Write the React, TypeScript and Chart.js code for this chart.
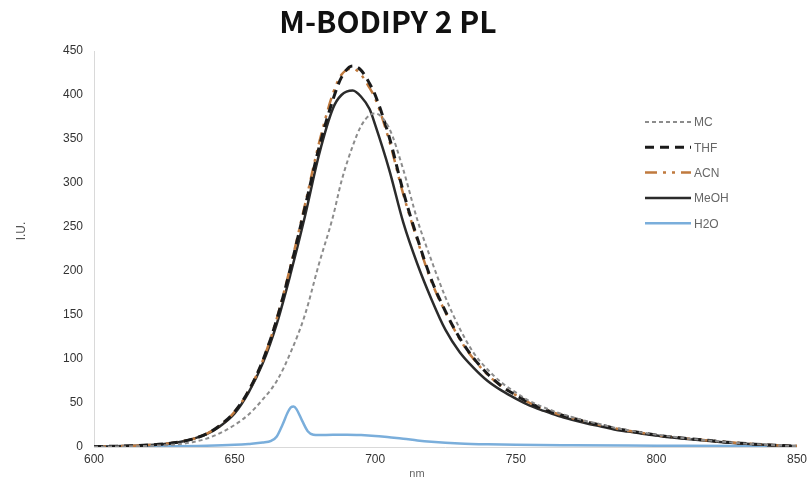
import React, { useEffect, useRef } from "react";
import { Chart, registerables } from "chart.js";

Chart.register(...registerables);

const TITLE = "M-BODIPY 2 PL";
const X_TITLE = "nm";
const Y_TITLE = "I.U.";

const WAVELENGTHS = [
  600, 605, 610, 615, 620, 625, 630, 635, 640, 645, 650, 655, 660, 665, 670, 675, 680, 685,
  688, 692, 695, 698, 700,
  705, 710, 715, 720, 725, 730, 735, 740, 745, 750, 755, 760, 765, 770, 775, 780, 785, 790,
  795, 800, 805, 810, 815, 820, 825, 830, 835, 840, 845, 850,
];

const MC = [
  0.3, 0.4, 0.6, 0.9, 1.3, 2, 3.2, 5.5, 9.5, 16, 25, 37, 54, 75, 108, 150, 208, 262,
  302, 342, 365, 377, 379,
  362, 315, 258, 212, 170, 135, 107, 88, 73, 62, 52, 45, 39, 34, 29.5, 26, 22, 19,
  16.5, 14, 12, 10, 8.5, 7, 5.5, 4.3, 3.2, 2.3, 1.6, 1,
];

const THF = [
  0.5, 0.7, 1, 1.5, 2.3, 3.5, 5.5, 9, 15, 25, 40, 64, 98, 145, 205, 272, 340, 395,
  420, 433, 428, 413, 400,
  352, 290, 237, 190, 154, 124, 101, 83, 69, 59, 50, 43, 37.5, 33, 28.5, 25, 21.5, 18.5,
  16, 13.5, 11.5, 10, 8.5, 7, 5.5, 4.3, 3.2, 2.3, 1.6, 1,
];

const ACN = [
  0.5, 0.7, 1, 1.5, 2.3, 3.5, 5.5, 9, 15, 25, 40, 64, 98, 146, 207, 275, 345, 402,
  423, 430, 423, 408, 396,
  348, 287, 235, 188, 153, 123, 100, 82, 69, 59, 50, 43, 37.5, 33, 28.5, 25, 21.5, 18.5,
  16, 13.5, 11.5, 10, 8.5, 7, 5.5, 4.3, 3.2, 2.3, 1.6, 1,
];

const MEOH = [
  0.5, 0.7, 1, 1.5, 2.3, 3.5, 5.5, 9, 14.5, 24, 38, 62, 95, 140, 198, 262, 332, 385,
  400, 405, 398, 384, 366,
  315, 255, 208, 168, 133, 108, 90, 75, 64, 55, 47, 41, 35.5, 31, 27, 23.5, 20, 17.5,
  15, 13, 11, 9.5, 8, 6.5, 5, 4, 3, 2.2, 1.5, 1,
];

const H2O_WAVELENGTHS = [
  600, 620, 640, 650, 655, 660, 663, 665, 667, 669, 670, 671, 672, 674, 676, 678, 680, 685,
  690, 695, 700, 705, 710, 715, 720, 730, 740, 750, 770, 800, 830, 850,
];
const H2O = [
  0.5, 0.8, 1.5, 2.5, 3.5, 5, 7, 12, 25, 40, 45, 46, 43, 30, 18, 14, 13.5, 14,
  14, 13.5, 12.5, 11, 9.5, 7.5, 6, 4, 3, 2.5, 2, 1.5, 1, 0.8,
];

const SERIES_LABELS = ["MC", "THF", "ACN", "MeOH", "H2O"];
const X_TICKS = [600, 650, 700, 750, 800, 850];
const Y_MAX = 450;
const Y_STEP = 50;

const pts = (xs: number[], ys: number[]) => xs.map((x, i) => ({ x, y: ys[i] }));

const textPlugin = {
  id: "customTexts",
  afterDraw(chart: any) {
    const ctx = chart.ctx;
    ctx.save();
    // title
    ctx.fillStyle = "#111";
    ctx.font = 'bold 30px "Noto Sans CJK KR", "Noto Sans", sans-serif';
    ctx.textAlign = "center";
    ctx.textBaseline = "middle";
    ctx.fillText(TITLE, 388, 22);
    // x title
    ctx.fillStyle = "#666";
    ctx.font = '11px "Liberation Sans", Arial, sans-serif';
    ctx.fillText(X_TITLE, 417, 474);
    // y title
    ctx.save();
    ctx.translate(22, 231);
    ctx.rotate(-Math.PI / 2);
    ctx.fillStyle = "#555";
    ctx.font = '12px "Liberation Sans", Arial, sans-serif';
    ctx.fillText(Y_TITLE, 0, 0);
    ctx.restore();
    // legend
    chart.data.datasets.forEach((ds: any, i: number) => {
      const y = 122 + i * 25.3;
      ctx.save();
      ctx.strokeStyle = ds.borderColor;
      ctx.lineWidth = ds.borderWidth;
      ctx.setLineDash(ds.borderDash || []);
      ctx.beginPath();
      ctx.moveTo(645, y);
      ctx.lineTo(691, y);
      ctx.stroke();
      ctx.restore();
      ctx.fillStyle = "#666";
      ctx.font = '12px "Liberation Sans", Arial, sans-serif';
      ctx.textAlign = "left";
      ctx.textBaseline = "middle";
      ctx.fillText(ds.label, 694, y + 1);
    });
    ctx.restore();
  },
};

export default function App() {
  const ref = useRef<HTMLCanvasElement | null>(null);
  useEffect(() => {
    document.body.style.margin = "0";
    const canvas = ref.current!;
    const common = { pointRadius: 0, fill: false, cubicInterpolationMode: "monotone" as const };
    const chart = new Chart(canvas, {
      type: "line",
      data: {
        datasets: [
          { ...common, label: SERIES_LABELS[0], data: pts(WAVELENGTHS, MC), borderColor: "#8c8c8c", borderWidth: 2, borderDash: [4, 3] },
          { ...common, label: SERIES_LABELS[1], data: pts(WAVELENGTHS, THF), borderColor: "#1a1a1a", borderWidth: 3, borderDash: [9, 6] },
          { ...common, label: SERIES_LABELS[2], data: pts(WAVELENGTHS, ACN), borderColor: "#c07a3e", borderWidth: 2.5, borderDash: [12, 6, 3, 6, 3, 6] },
          { ...common, label: SERIES_LABELS[3], data: pts(WAVELENGTHS, MEOH), borderColor: "#2b2b2b", borderWidth: 2.5 },
          { ...common, label: SERIES_LABELS[4], data: pts(H2O_WAVELENGTHS, H2O), borderColor: "#7aaedb", borderWidth: 2.5 },
        ],
      },
      options: {
        responsive: false,
        animation: false,
        layout: { padding: { top: 51, right: 15, left: 0, bottom: 0 } },
        plugins: { legend: { display: false }, title: { display: false }, tooltip: { enabled: false } },
        scales: {
          x: {
            type: "linear",
            min: 600,
            max: 850,
            afterBuildTicks: (s: any) => { s.ticks = X_TICKS.map((v) => ({ value: v })); },
            afterFit: (s: any) => { s.height = 37; },
            grid: { display: false, drawTicks: false },
            border: { display: true, color: "#d9d9d9", width: 1 },
            ticks: { padding: 5, color: "#333", font: { size: 12, family: '"Liberation Sans", Arial, sans-serif' } },
          },
          y: {
            min: 0,
            max: Y_MAX,
            afterFit: (s: any) => { s.width = 94; },
            grid: { display: false, drawTicks: false },
            border: { display: true, color: "#d9d9d9", width: 1 },
            ticks: { stepSize: Y_STEP, padding: 11, color: "#333", font: { size: 12, family: '"Liberation Sans", Arial, sans-serif' } },
          },
        },
      },
      plugins: [textPlugin],
    });
    return () => chart.destroy();
  }, []);
  return <canvas ref={ref} width={812} height={484} style={{ display: "block" }} />;
}
